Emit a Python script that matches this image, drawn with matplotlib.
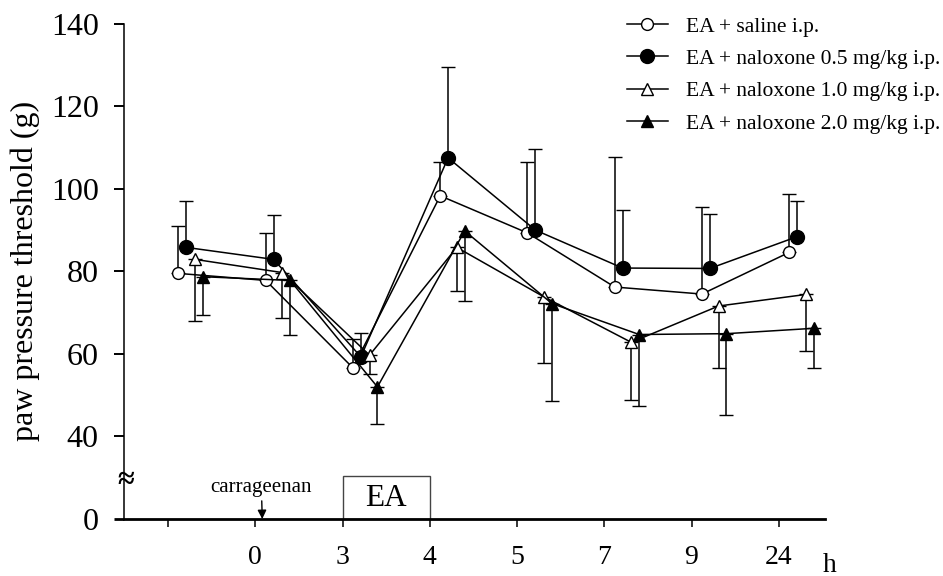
import numpy as np
import matplotlib
matplotlib.use("Agg")
import matplotlib.pyplot as plt
from matplotlib.patches import Rectangle

plt.rcParams['font.family'] = ['Liberation Serif', 'DejaVu Serif']

# time points (h) after carrageenan; first slot is the pre-injection baseline
time_labels = ['', '0', '3', '4', '5', '7', '9', '24']

saline = [79.5, 77.8, 56.6, 98.3, 89.3, 76.2, 74.5, 84.6]
saline_err = [11.5, 11.4, 7.1, 8.2, 17.3, 31.5, 21.2, 14.1]

nal_05 = [85.8, 82.9, 59.3, 107.5, 90.0, 80.8, 80.7, 88.4]
nal_05_err = [11.2, 10.7, 5.8, 22.0, 19.7, 14.0, 13.3, 8.6]

nal_10 = [82.9, 79.7, 59.7, 85.8, 73.8, 62.8, 71.6, 74.4]
nal_10_err = [15.0, 10.9, 4.5, 10.5, 15.9, 14.0, 15.1, 13.7]

nal_20 = [78.7, 77.8, 52.0, 89.8, 72.2, 64.7, 64.9, 66.2]
nal_20_err = [9.2, 13.3, 9.1, 17.0, 23.7, 17.4, 19.7, 9.7]

series_labels = ['EA + saline i.p.', 'EA + naloxone 0.5 mg/kg i.p.',
                 'EA + naloxone 1.0 mg/kg i.p.', 'EA + naloxone 2.0 mg/kg i.p.']

# y axis is broken: the "0" tick sits where 20 would be
y_base = 20
ytick_vals = [20, 40, 60, 80, 100, 120, 140]
ytick_labels = ['0', '40', '60', '80', '100', '120', '140']

fig = plt.figure(figsize=(9.43, 5.76), dpi=100)
ax = fig.add_axes([124.4 / 943, 1 - 519 / 576, (825 - 124.4) / 943, (519 - 23.7) / 576])

x = np.arange(len(time_labels))
offsets = [0.12, 0.21, 0.31, 0.40]
zeros = np.zeros(len(x))

styles = [
    dict(marker='o', mfc='white', ms=8.5),
    dict(marker='o', mfc='black', ms=10),
    dict(marker='^', mfc='white', ms=8.5),
    dict(marker='^', mfc='black', ms=9),
]
values = [saline, nal_05, nal_10, nal_20]
errs = [saline_err, nal_05_err, nal_10_err, nal_20_err]
upper_only = [True, True, False, False]

handles = []
for vals, err, st, off, up in zip(values, errs, styles, offsets, upper_only):
    err = np.array(err)
    yerr = [zeros, err] if up else [err, zeros]
    cont = ax.errorbar(x + off, vals, yerr=yerr, color='black', lw=1.1,
                       elinewidth=1.1, capsize=5, capthick=1.8,
                       mec='black', mew=1.0, clip_on=False, **st)
    handles.append(cont[0])

ax.set_xlim(-0.5, 7.53)
ax.set_ylim(y_base, 140)

ax.spines['top'].set_visible(False)
ax.spines['right'].set_visible(False)
ax.spines['left'].set_linewidth(1.1)
ax.spines['bottom'].set_linewidth(2.0)

ax.set_xticks(x)
ax.set_xticklabels(time_labels, fontsize=20)
ax.tick_params(axis='x', direction='out', length=6, width=1.1, pad=13)
ax.set_yticks(ytick_vals)
ax.set_yticklabels(ytick_labels, fontsize=23)
ax.tick_params(axis='y', direction='out', length=7.5, width=1.4, pad=11)
ax.yaxis.get_major_ticks()[0].tick1line.set_markeredgewidth(2.0)

ax.set_ylabel('paw pressure threshold (g)', fontsize=23, labelpad=8)

# axis break mark
ax.text(-0.49, 29.4, '≈', fontsize=22, fontweight='bold', ha='center', va='center',
        clip_on=False)

# EA stimulation period
ax.add_patch(Rectangle((2, y_base), 1, 10.5, fill=False, ec='#444444', lw=1.0))
ax.text(2.5, 24.9, 'EA', fontsize=22.5, ha='center', va='center')

# carrageenan injection
ax.annotate('carrageenan', xy=(1.08, y_base), xytext=(1.07, 27.7),
            fontsize=15, ha='center', va='center',
            arrowprops=dict(arrowstyle='-|>', color='black', lw=1.0,
                            mutation_scale=13, shrinkA=1, shrinkB=0))

fig.text(830 / 943, 1 - 565 / 576, 'h', fontsize=20, ha='center', va='center')

ax.legend(handles, series_labels, loc='upper left',
          bbox_to_anchor=(627 / 943, 1 - 16.5 / 576), bbox_transform=fig.transFigure,
          frameon=False, fontsize=15.5, handlelength=1.9, handletextpad=0.85,
          labelspacing=0.57, borderpad=0, borderaxespad=0)

fig.savefig('out.png', dpi=100)
